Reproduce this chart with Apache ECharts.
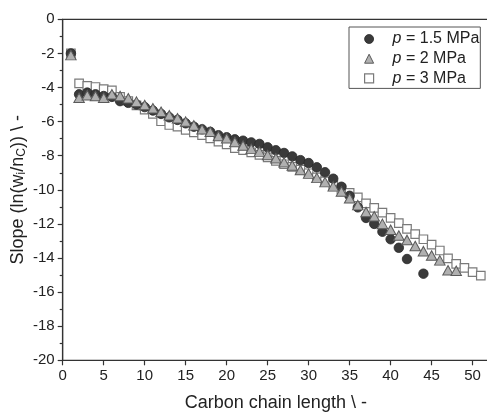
<!DOCTYPE html>
<html><head><meta charset="utf-8">
<script src="https://cdn.jsdelivr.net/npm/echarts@6/dist/echarts.min.js"></script>
<style>html,body{margin:0;padding:0;background:#fff}#c{width:487px;height:412px}</style>
</head><body><div id="c"></div>
<script>
// p = 1.5 MPa (filled circles)
const carbonP15 = [1,2,3,4,5,6,7,8,9,10,11,12,13,14,15,16,17,18,19,20,21,22,23,24,25,26,27,28,29,30,31,32,33,34,35,36,37,38,39,40,41,42,44];
const slopeP15 = [-2.0,-4.4,-4.3,-4.4,-4.5,-4.55,-4.8,-4.9,-5.0,-5.15,-5.35,-5.55,-5.75,-5.9,-6.1,-6.3,-6.45,-6.6,-6.8,-6.92,-7.04,-7.12,-7.22,-7.31,-7.51,-7.68,-7.84,-8.04,-8.26,-8.43,-8.68,-8.97,-9.35,-9.82,-10.35,-11.03,-11.65,-12.0,-12.46,-12.9,-13.4,-14.06,-14.92];
// p = 2 MPa (grey triangles)
const carbonP2 = [1,2,3,4,5,6,7,8,9,10,11,12,13,14,15,16,17,18,19,20,21,22,23,24,25,26,27,28,29,30,31,32,33,34,35,36,37,38,39,40,41,42,43,44,45,46,47,48];
const slopeP2 = [-2.1,-4.6,-4.45,-4.5,-4.6,-4.4,-4.5,-4.63,-4.83,-5.03,-5.22,-5.42,-5.63,-5.8,-6.0,-6.22,-6.45,-6.6,-6.84,-6.98,-7.2,-7.4,-7.6,-7.76,-7.96,-8.15,-8.39,-8.58,-8.84,-9.05,-9.3,-9.55,-9.8,-10.1,-10.5,-10.9,-11.3,-11.55,-12.0,-12.34,-12.68,-12.94,-13.3,-13.6,-13.85,-14.14,-14.72,-14.75];
// p = 3 MPa (open squares)
const carbonP3 = [1,2,3,4,5,6,7,8,9,10,11,12,13,14,15,16,17,18,19,20,21,22,23,24,25,26,27,28,29,30,31,32,33,34,35,36,37,38,39,40,41,42,43,44,45,46,47,48,49,50,51];
const slopeP3 = [-2.0,-3.76,-3.9,-3.97,-4.1,-4.17,-4.55,-4.8,-5.05,-5.3,-5.55,-5.98,-6.2,-6.3,-6.49,-6.63,-6.79,-6.98,-7.18,-7.33,-7.55,-7.67,-7.8,-7.95,-8.1,-8.3,-8.5,-8.65,-8.82,-9.03,-9.27,-9.5,-9.72,-9.97,-10.18,-10.45,-10.8,-11.06,-11.34,-11.65,-11.96,-12.29,-12.6,-12.9,-13.21,-13.56,-14.02,-14.35,-14.58,-14.83,-15.03];
const seriesNames = ['p = 1.5 MPa','p = 2 MPa','p = 3 MPa'];

const zip = (xs, ys) => xs.map((x, i) => [x, ys[i]]);
const FONT = 'Liberation Sans';
const chart = echarts.init(document.getElementById('c'), null, {renderer: 'canvas'});
chart.setOption({
  animation: false,
  backgroundColor: '#fff',
  grid: {left: 62.7, right: -2, top: 19.3, bottom: 51.7, show: true, borderColor: '#333', borderWidth: 1.2,
    backgroundColor: 'transparent', outerBoundsMode: 'none', containLabel: false},
  legend: {
    orient: 'vertical', left: 349, top: 27,
    data: [
      {name: seriesNames[0], icon: 'circle', itemStyle: {color: '#3a3a3a', borderColor: '#2a2a2a', borderWidth: 0.8}},
      {name: seriesNames[1], icon: 'triangle', itemStyle: {color: '#b0b0b0', borderColor: '#5a5a5a', borderWidth: 1}},
      {name: seriesNames[2], icon: 'rect', itemStyle: {color: '#fff', borderColor: '#7a7a7a', borderWidth: 1.2}}
    ],
    itemWidth: 9, itemHeight: 9, itemGap: 3.7,
    padding: [4, 1, 2, 15],
    borderColor: '#555', borderWidth: 1,
    textStyle: {fontFamily: FONT, fontSize: 16, color: '#222', lineHeight: 16, padding: [0, 0, 0, 14],
      rich: {i: {fontFamily: FONT, fontSize: 16, fontStyle: 'italic', color: '#222', lineHeight: 16}}},
    formatter: n => n.replace(/^p/, '{i|p}')
  },
  xAxis: {
    type: 'value', min: 0, max: 52, interval: 5,
    name: 'Carbon chain length \\ -', nameLocation: 'middle', nameGap: 34, nameMoveOverlap: false,
    nameTextStyle: {fontFamily: FONT, fontSize: 18, color: '#222'},
    axisLine: {onZero: false, lineStyle: {color: '#333', width: 1.2}},
    axisTick: {length: 5, lineStyle: {color: '#333', width: 1.2}},
    axisLabel: {fontFamily: FONT, fontSize: 15, color: '#222', margin: 8, showMaxLabel: false},
    splitLine: {show: false}
  },
  yAxis: {
    type: 'value', min: -20, max: 0, interval: 2,
    name: 'Slope (ln(w{s|i}/n{s|C})) \\ -', nameLocation: 'middle', nameGap: 35, nameMoveOverlap: false,
    nameTextStyle: {fontFamily: FONT, fontSize: 18, color: '#222', lineHeight: 20,
      rich: {s: {fontFamily: FONT, fontSize: 12, color: '#222', verticalAlign: 'bottom', lineHeight: 12}}},
    axisLine: {onZero: false, lineStyle: {color: '#333', width: 1.2}},
    axisTick: {length: 5, lineStyle: {color: '#333', width: 1.2}},
    minorTick: {show: true, splitNumber: 2, length: 3, lineStyle: {color: '#333', width: 1.2}},
    axisLabel: {fontFamily: FONT, fontSize: 15, color: '#222', margin: 8},
    splitLine: {show: false}
  },
  series: [
    {name: seriesNames[2], type: 'scatter', data: zip(carbonP3, slopeP3), symbol: 'rect', symbolSize: 8.5,
      itemStyle: {color: '#fff', borderColor: '#7a7a7a', borderWidth: 1.2, opacity: 1}},
    {name: seriesNames[0], type: 'scatter', data: zip(carbonP15, slopeP15), symbol: 'circle', symbolSize: 9.5,
      itemStyle: {color: '#3a3a3a', borderColor: '#2a2a2a', borderWidth: 0.8, opacity: 1}},
    {name: seriesNames[1], type: 'scatter', data: zip(carbonP2, slopeP2), symbol: 'triangle', symbolSize: [10.5, 9.5],
      itemStyle: {color: '#b0b0b0', borderColor: '#5a5a5a', borderWidth: 1, opacity: 1}}
  ]
});
</script>
</body></html>
